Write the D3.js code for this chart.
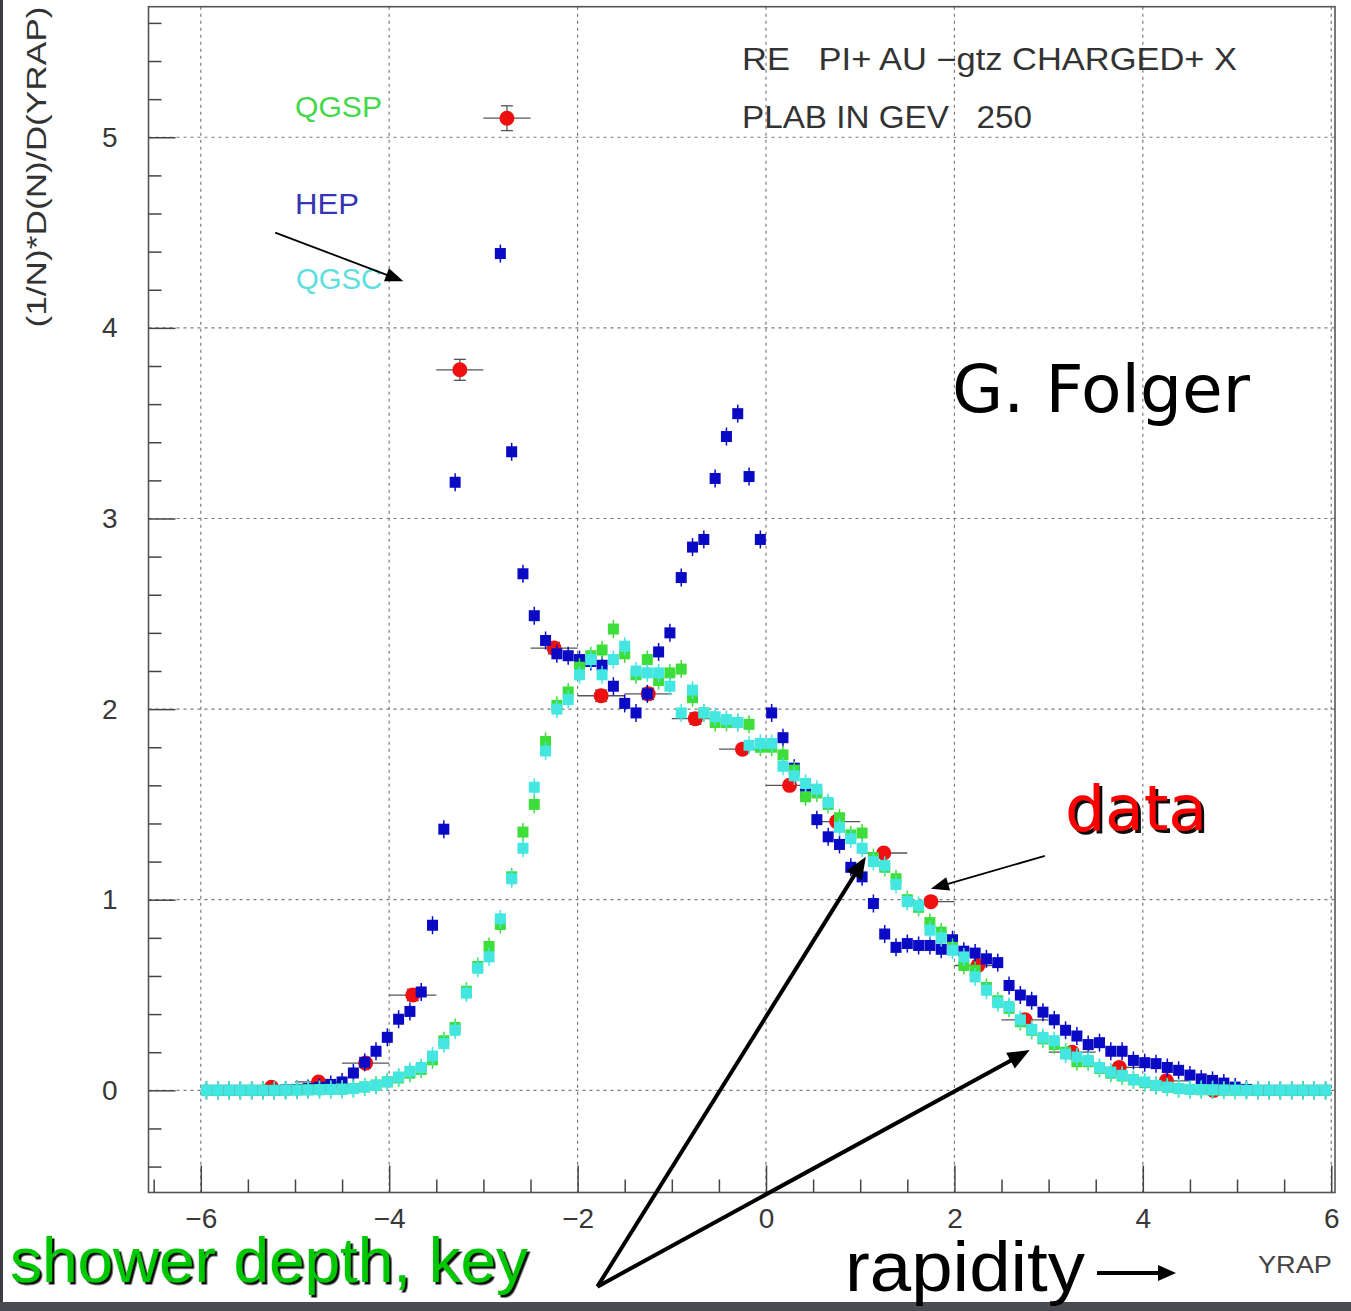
<!DOCTYPE html>
<html>
<head>
<meta charset="utf-8">
<script src="https://cdn.jsdelivr.net/npm/d3@7"></script>
<style>
  body { margin: 0; background: #fff; }
  svg { display: block; }
  text { font-family: "Liberation Sans", Arial, sans-serif; }
</style>
</head>
<body>
<svg id="chart" width="1351" height="1311"></svg>
<script>
// bin centres of the YRAP histogram (100 bins, -6..6)
const yrapBins = [
  -5.94,-5.82,-5.70,-5.58,-5.46,-5.34,-5.22,-5.10,-4.98,-4.86,
  -4.74,-4.62,-4.50,-4.38,-4.26,-4.14,-4.02,-3.90,-3.78,-3.66,
  -3.54,-3.42,-3.30,-3.18,-3.06,-2.94,-2.82,-2.70,-2.58,-2.46,
  -2.34,-2.22,-2.10,-1.98,-1.86,-1.74,-1.62,-1.50,-1.38,-1.26,
  -1.14,-1.02,-0.90,-0.78,-0.66,-0.54,-0.42,-0.30,-0.18,-0.06,
   0.06, 0.18, 0.30, 0.42, 0.54, 0.66, 0.78, 0.90, 1.02, 1.14,
   1.26, 1.38, 1.50, 1.62, 1.74, 1.86, 1.98, 2.10, 2.22, 2.34,
   2.46, 2.58, 2.70, 2.82, 2.94, 3.06, 3.18, 3.30, 3.42, 3.54,
   3.66, 3.78, 3.90, 4.02, 4.14, 4.26, 4.38, 4.50, 4.62, 4.74,
   4.86, 4.98, 5.10, 5.22, 5.34, 5.46, 5.58, 5.70, 5.82, 5.94
];

// HEP (blue) - null where the bin is off the top of the plot
const hepValues = [
  0,0,0,0,0,0,0,0.002,0.005,0.010,
  0.016,0.031,0.044,0.091,0.147,0.205,0.278,0.373,0.414,0.516,
  0.866,1.37,3.19,null,null,null,4.39,3.35,2.71,2.49,
  2.36,2.29,2.28,2.26,2.25,2.23,2.12,2.03,1.98,2.08,
  2.30,2.40,2.69,2.85,2.89,3.21,3.43,3.55,3.22,2.89,
  1.98,1.85,1.69,1.56,1.42,1.33,1.29,1.17,1.12,0.98,
  0.82,0.75,0.77,0.76,0.76,0.74,0.79,0.73,0.72,0.69,
  0.67,0.55,0.50,0.47,0.41,0.37,0.315,0.285,0.24,0.25,
  0.205,0.205,0.157,0.145,0.14,0.12,0.105,0.08,0.06,0.052,
  0.038,0.017,0.005,0,0,0,0,0,0,0
];

// QGSP (green)
const qgspValues = [
  0,0,0,0,0,0,0,0,0.002,0.003,
  0.004,0.005,0.007,0.010,0.018,0.028,0.045,0.065,0.09,0.11,
  0.16,0.26,0.33,0.52,0.65,0.755,0.87,1.12,1.355,1.50,
  1.83,2.02,2.09,2.22,2.28,2.31,2.42,2.29,2.18,2.26,
  2.15,2.19,2.21,2.06,1.98,1.93,1.93,1.93,1.92,1.80,
  1.80,1.76,1.68,1.54,1.56,1.50,1.43,1.34,1.35,1.22,
  1.17,1.11,1.00,0.96,0.88,0.83,0.75,0.655,0.63,0.54,
  0.47,0.43,0.36,0.315,0.27,0.24,0.20,0.15,0.15,0.115,
  0.09,0.075,0.055,0.04,0.025,0.016,0.009,0.005,0.003,0.002,
  0,0,0,0,0,0,0,0,0,0
];

// QGSC (cyan)
const qgscValues = [
  0,0,0,0,0,0,0,0,0.001,0.002,
  0.003,0.004,0.005,0.009,0.017,0.026,0.044,0.07,0.10,0.12,
  0.18,0.245,0.315,0.51,0.64,0.70,0.90,1.11,1.27,1.59,
  1.78,2.00,2.05,2.18,2.26,2.18,2.26,2.33,2.20,2.19,
  2.19,2.12,1.98,2.10,1.98,1.96,1.945,1.93,1.81,1.82,
  1.82,1.70,1.65,1.61,1.58,1.51,1.38,1.32,1.27,1.20,
  1.18,1.08,0.99,0.97,0.84,0.80,0.735,0.70,0.595,0.525,
  0.46,0.44,0.37,0.32,0.277,0.26,0.19,0.175,0.157,0.12,
  0.096,0.079,0.056,0.044,0.026,0.017,0.009,0.005,0.004,0.003,
  0.002,0.001,0,0,0,0,0,0,0,0
];

// measured data (red)
const dataYrap   = [-5.25,-4.75,-4.25,-3.75,-3.25,-2.75,-2.25,-1.75,-1.25,-0.75,-0.25,0.25,0.75,1.25,1.75,2.25,2.75,3.25,3.75,4.25,4.75];
const dataValues = [0.016,0.044,0.143,0.50,3.78,5.10,2.32,2.07,2.08,1.95,1.79,1.60,1.41,1.245,0.99,0.655,0.37,0.20,0.12,0.05,0.0];
const dataErrors = [0.02,0.02,0.02,0.03,0.055,0.065,0.03,0.03,0.03,0.03,0.02,0.02,0.02,0.02,0.02,0.02,0.02,0.02,0.02,0.02,0.02];
const dataHalfBin = 0.25;

// ticks
const xMajorTicks = [-6,-4,-2,0,2,4,6];
const xMinorTicks = [-6.5,-5.5,-5,-4.5,-3.5,-3,-2.5,-1.5,-1,-0.5,0.5,1,1.5,2.5,3,3.5,4.5,5,5.5];
const yMajorTicks = [0,1,2,3,4,5];
const yMinorTicks = [-0.4,-0.2,0.2,0.4,0.6,0.8,1.2,1.4,1.6,1.8,2.2,2.4,2.6,2.8,3.2,3.4,3.6,3.8,4.2,4.4,4.6,4.8,5.2,5.4,5.6];

const frame = {left: 148.5, right: 1335, top: 6.7, bottom: 1192.5};

let svg = d3.select("#chart");

let x = d3.scaleLinear().domain([-6.555, 6.04]).range([frame.left, frame.right]);
let y = d3.scaleLinear().domain([-0.536, 5.685]).range([frame.bottom, frame.top]);

function renderPage(target){
    target.append("rect").attr("width", 1351).attr("height", 1311).attr("fill", "#fff");
    // slide border remnants
    target.append("rect").attr("x", 0).attr("y", 0).attr("width", 3).attr("height", 1311).attr("fill", "#3c3c44");
    target.append("rect").attr("x", 0).attr("y", 1302).attr("width", 1351).attr("height", 9).attr("fill", "#4a4a52");

    // hard drop shadows for the slide captions
    let defs = target.append("defs");
    [["shadow-data", 3], ["shadow-key", 2.5]].forEach(([id, off]) => {
      defs.append("filter")
        .attr("id", id)
        .attr("x", "-5%").attr("y", "-10%").attr("width", "115%").attr("height", "130%")
        .append("feDropShadow")
        .attr("dx", off).attr("dy", off)
        .attr("stdDeviation", 0.4)
        .attr("flood-color", "#111")
        .attr("flood-opacity", 1);
    });
}

function renderGrid(x, y, target){
    let grid = target.append("g").attr("class", "grid")
      .attr("stroke", "#7a7a7a")
      .attr("stroke-width", 1.2)
      .attr("stroke-dasharray", "3,4");

    grid.selectAll("line.gx")
      .data(xMajorTicks)
      .enter()
      .append("line")
      .attr("class", "gx")
      .attr("x1", d => x(d)).attr("x2", d => x(d))
      .attr("y1", frame.top).attr("y2", frame.bottom);

    grid.selectAll("line.gy")
      .data(yMajorTicks)
      .enter()
      .append("line")
      .attr("class", "gy")
      .attr("y1", d => y(d)).attr("y2", d => y(d))
      .attr("x1", frame.left).attr("x2", frame.right);
}

function styleAxis(g){
    g.select(".domain").remove();
    g.selectAll("line").attr("stroke", "#444").attr("stroke-width", 1.5);
    g.selectAll("text")
      .attr("fill", "#383838")
      .style("font-size", "28px")
      .style("font-family", "'Liberation Sans', Arial, sans-serif");
}

function renderXAxis(x, target){
    target.append("g")
      .attr("class", "x-axis")
      .attr("transform", `translate(0,${frame.bottom})`)
      .call(d3.axisBottom(x).tickValues(xMajorTicks).tickSize(-27).tickPadding(16))
      .call(styleAxis);

    // minor ticks only, no labels
    target.append("g")
      .attr("class", "x-minor")
      .attr("transform", `translate(0,${frame.bottom})`)
      .call(d3.axisBottom(x).tickValues(xMinorTicks).tickSize(-13).tickFormat(""))
      .call(styleAxis)
      .call(g => g.selectAll("text").remove());
}

function renderYAxis(y, target){
    target.append("g")
      .attr("class", "y-axis")
      .attr("transform", `translate(${frame.left},0)`)
      .call(d3.axisLeft(y).tickValues(yMajorTicks).tickSize(-27).tickPadding(31).tickFormat(d3.format("d")))
      .call(styleAxis);

    target.append("g")
      .attr("class", "y-minor")
      .attr("transform", `translate(${frame.left},0)`)
      .call(d3.axisLeft(y).tickValues(yMinorTicks).tickSize(-13).tickFormat(""))
      .call(styleAxis)
      .call(g => g.selectAll("text").remove());
}

function renderFrame(target){
    target.append("rect")
      .attr("x", frame.left).attr("y", frame.top)
      .attr("width", frame.right - frame.left)
      .attr("height", frame.bottom - frame.top)
      .attr("fill", "none")
      .attr("stroke", "#555")
      .attr("stroke-width", 1.6);
}

function drawData(target){
    let pts = dataYrap.map((d, i) => ({x: d, v: dataValues[i], e: dataErrors[i]}));
    let g = target.append("g").attr("class", "data");

    g.selectAll("line.hbar")
      .data(pts).enter().append("line")
      .attr("class", "hbar")
      .attr("x1", d => x(d.x - dataHalfBin)).attr("x2", d => x(d.x + dataHalfBin))
      .attr("y1", d => y(d.v)).attr("y2", d => y(d.v))
      .attr("stroke", "#555").attr("stroke-width", 1.3);

    g.selectAll("line.vbar")
      .data(pts).enter().append("line")
      .attr("class", "vbar")
      .attr("x1", d => x(d.x)).attr("x2", d => x(d.x))
      .attr("y1", d => y(d.v + d.e)).attr("y2", d => y(d.v - d.e))
      .attr("stroke", "#555").attr("stroke-width", 1.3);

    // small caps on the vertical error bars
    ["top", "bottom"].forEach(side => {
      g.selectAll(`line.cap-${side}`)
        .data(pts.filter(d => d.e >= 0.03)).enter().append("line")
        .attr("class", `cap-${side}`)
        .attr("x1", d => x(d.x) - 6).attr("x2", d => x(d.x) + 6)
        .attr("y1", d => y(side === "top" ? d.v + d.e : d.v - d.e))
        .attr("y2", d => y(side === "top" ? d.v + d.e : d.v - d.e))
        .attr("stroke", "#555").attr("stroke-width", 1.3);
    });

    g.selectAll("circle")
      .data(pts).enter().append("circle")
      .attr("cx", d => x(d.x))
      .attr("cy", d => y(d.v))
      .attr("r", 7.5)
      .attr("fill", "#ee1010");
}

function drawSeries(values, color, target){
    let pts = yrapBins
      .map((b, i) => ({x: b, v: values[i]}))
      .filter(d => d.v !== null);

    let g = target.append("g").attr("class", "series");

    g.selectAll("line")
      .data(pts).enter().append("line")
      .attr("x1", d => x(d.x)).attr("x2", d => x(d.x))
      .attr("y1", d => y(d.v) - 9).attr("y2", d => y(d.v) + 9)
      .attr("stroke", color).attr("stroke-width", 1.5);

    g.selectAll("rect")
      .data(pts).enter().append("rect")
      .attr("x", d => x(d.x) - 5.5)
      .attr("y", d => y(d.v) - 5.5)
      .attr("width", 11).attr("height", 11)
      .attr("fill", color);
}

function drawArrow(target, from, to, lw, headLen, headHalf){
    let x1 = from[0], y1 = from[1], x2 = to[0], y2 = to[1];
    let len = Math.hypot(x2 - x1, y2 - y1);
    let ux = (x2 - x1) / len, uy = (y2 - y1) / len;
    let bx = x2 - ux * headLen, by = y2 - uy * headLen;
    target.append("line")
      .attr("x1", x1).attr("y1", y1).attr("x2", bx + ux).attr("y2", by + uy)
      .attr("stroke", "#000").attr("stroke-width", lw);
    target.append("path")
      .attr("d", `M${x2},${y2}L${bx - uy * headHalf},${by + ux * headHalf}L${bx + uy * headHalf},${by - ux * headHalf}Z`)
      .attr("fill", "#000");
}

function addText(target, str, px, py, opts){
    let t = target.append("text")
      .attr("x", px).attr("y", py)
      .attr("fill", opts.fill || "#333")
      .attr("xml:space", "preserve")
      .style("white-space", "pre")
      .style("font-size", `${opts.size}px`);
    if (opts.family) t.style("font-family", opts.family);
    if (opts.len) t.attr("textLength", opts.len).attr("lengthAdjust", "spacingAndGlyphs");
    if (opts.rotate) t.attr("transform", `rotate(${opts.rotate},${px},${py})`).attr("text-anchor", "middle");
    if (opts.filter) t.attr("filter", `url(#${opts.filter})`);
    t.text(str);
    return t;
}

renderPage(svg);
renderGrid(x, y, svg);
renderFrame(svg);
renderXAxis(x, svg);
renderYAxis(y, svg);

drawData(svg);
drawSeries(hepValues, "#0a0ac4", svg);
drawSeries(qgspValues, "#3ede3a", svg);
drawSeries(qgscValues, "#44e6e2", svg);

// axis titles and header
addText(svg, "(1/N)*D(N)/D(YRAP)", 46, 167, {size: 27, len: 321, rotate: -90, fill: "#333"});
addText(svg, "YRAP", 1258, 1273, {size: 24, len: 74, fill: "#444"});
addText(svg, "RE   PI+ AU \u2212gtz CHARGED+ X", 742, 70, {size: 31, len: 495, fill: "#333"});
addText(svg, "PLAB IN GEV   250", 742, 128, {size: 31, len: 290, fill: "#333"});

// model key
addText(svg, "QGSP", 295, 117, {size: 30, len: 87, fill: "#44d84a"});
addText(svg, "HEP", 295, 214, {size: 30, len: 64, fill: "#3434b4"});
addText(svg, "QGSC", 296, 289, {size: 30, len: 86, fill: "#5ce0de"});

// slide annotations
addText(svg, "G. Folger", 952, 412, {size: 65, len: 298, fill: "#000", family: "'DejaVu Sans', Verdana, sans-serif"});
addText(svg, "data", 1065, 830, {size: 62, len: 142, fill: "#ff0000", filter: "shadow-data", family: "'DejaVu Sans', Verdana, sans-serif"});
addText(svg, "shower depth, key", 10, 1282, {size: 63, len: 518, fill: "#00c800", filter: "shadow-key"});
addText(svg, "rapidity", 845, 1291, {size: 70, len: 240, fill: "#000"});

drawArrow(svg, [1097, 1273], [1176, 1273], 4, 18, 8);
drawArrow(svg, [x(-5.21), y(4.50)], [x(-3.85), y(4.245)], 1.8, 18, 7);
drawArrow(svg, [x(2.96), y(1.23)], [x(1.75), y(1.057)], 1.8, 18, 7);
drawArrow(svg, [x(-1.79), y(-1.03)], [x(1.06), y(1.225)], 4, 22, 9);
drawArrow(svg, [x(-1.79), y(-1.03)], [x(2.80), y(0.211)], 4, 22, 9);
</script>
</body>
</html>
